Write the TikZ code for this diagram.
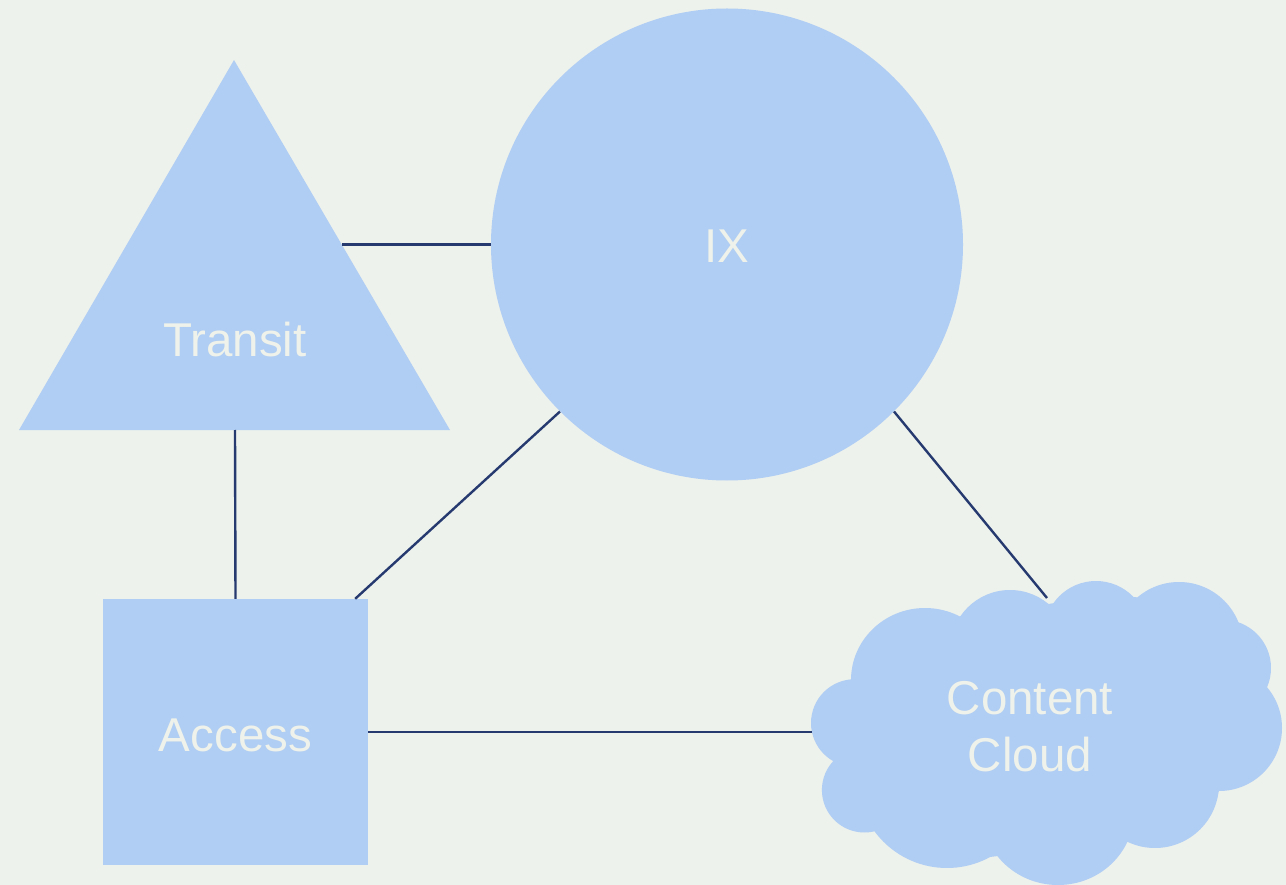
\documentclass[tikz,border=0pt]{standalone}
\usepackage{fontspec}
\setmainfont{Liberation Sans}
\usetikzlibrary{calc}
\definecolor{bgcol}{HTML}{EDF2EC}
\definecolor{shapefill}{HTML}{B0CDF3}
\definecolor{linkcol}{HTML}{263A70}
\definecolor{labelcol}{HTML}{EEF2EA}
\begin{document}
\begin{tikzpicture}[x=1pt,y=-1pt,
  shapestyle/.style={fill=shapefill,draw=none},
  labelstyle/.style={text=labelcol,font=\fontsize{47.5}{57}\selectfont,align=center,inner sep=0pt},
  link/.style={draw=linkcol,line width=2.4pt}]
  % canvas
  \fill[bgcol] (0,0) rectangle (1286,885);
  \useasboundingbox (0,0) rectangle (1286,885);

  % triangle (Transit)
  \fill[shapefill] (234,60) -- (450,430) -- (19,430) -- cycle;
  \node[labelstyle] (Transit) at (235,340) {Transit};
  \coordinate (TransitRight) at (342,244.5);
  \coordinate (TransitBase) at (235,430);

  % circle (IX)
  \node[shapestyle,circle,minimum size=472pt,inner sep=0pt] (IX) at (727,244.5) {};
  \node[labelstyle] (IXlabel) at (727,246) {IX};

  % square (Access)
  \node[shapestyle,rectangle,minimum width=265pt,minimum height=266pt,inner sep=0pt] (Access) at (235.5,732) {};
  \node[labelstyle] (Accesslabel) at (235.5,735) {Access};

  % cloud (Content Cloud): interior polygon plus bumps
  \fill[shapefill] (853,683) -- (963,617) -- (1055,603) -- (1135,597) -- (1228,620)
     -- (1267,688) -- (1218,793) -- (1122,840) -- (990,857) -- (875,831) -- (833,761) -- cycle;
  \fill[shapefill] (925,680) ellipse[x radius=74,y radius=72];
  \fill[shapefill] (1010,650) circle[radius=60];
  \fill[shapefill] (1096,633) circle[radius=52];
  \fill[shapefill] (1179,646) circle[radius=64];
  \fill[shapefill] (1222.7,668) circle[radius=48.3];
  \fill[shapefill] (1219,728) circle[radius=63];
  \fill[shapefill] (1155,784) circle[radius=64];
  \fill[shapefill] (1058,812) ellipse[x radius=76,y radius=73];
  \fill[shapefill] (947,778) circle[radius=90];
  \fill[shapefill] (864.4,790) circle[radius=42.5];
  \fill[shapefill] (854.8,723) circle[radius=43.8];
  \node[labelstyle] (Cloud) at (1030,727) {Content\\Cloud};
  \coordinate (CloudTop) at (1047,598);
  \coordinate (CloudLeft) at (812,732);

  % links
  \draw[link] (TransitRight) -- (IX.west);
  \draw[link] (TransitBase) -- (Access.north);
  \draw[link] (IX.225) -- ($(Access.north east)+(-13,0)$);
  \draw[link] (IX.-45) -- (CloudTop);
  \draw[link] (Access.east) -- (CloudLeft);
\end{tikzpicture}
\end{document}
